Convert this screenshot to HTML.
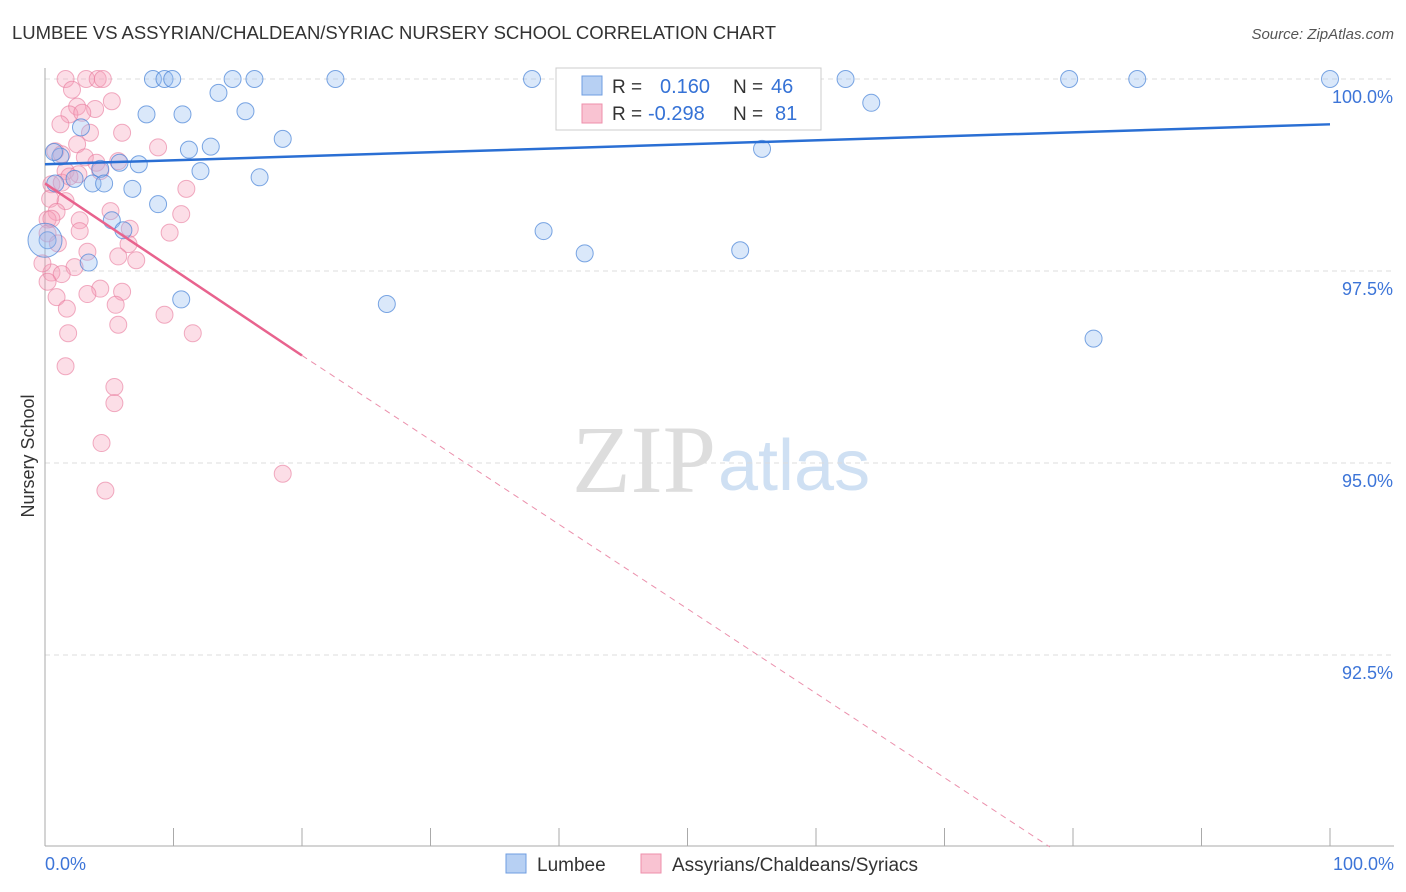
<!DOCTYPE html>
<html><head><meta charset="utf-8"><style>
body{margin:0;background:#fff;font-family:"Liberation Sans",sans-serif;}
svg{display:block}
</style></head><body>
<svg id="c" width="1406" height="892">
<text x="12" y="39" font-size="18.5" fill="#333" textLength="764">LUMBEE VS ASSYRIAN/CHALDEAN/SYRIAC NURSERY SCHOOL CORRELATION CHART</text>
<text x="1394" y="39" font-size="15" fill="#555" font-style="italic" text-anchor="end">Source: ZipAtlas.com</text>
<text x="34" y="456" font-size="18" fill="#333" text-anchor="middle" transform="rotate(-90 34 456)">Nursery School</text>
<text x="716" y="492" font-size="96" fill="#ddd" font-family="Liberation Serif,serif" text-anchor="end">ZIP</text>
<text x="718" y="490" font-size="72" fill="#cfe0f3">atlas</text>
<g id="grid"></g><g id="pts"></g><g id="lines"></g>
<g>
<rect x="556" y="68" width="265" height="62" fill="#fff" stroke="#ccc"/>
<rect x="582" y="76" width="20" height="19" fill="#b7d0f3" stroke="#6f9ee0"/>
<rect x="582" y="104" width="20" height="19" fill="#f9c3d2" stroke="#ee8fab"/>
<text x="612" y="93" font-size="19" fill="#333">R =</text>
<text x="660" y="93" font-size="20" fill="#3572d6">0.160</text>
<text x="733" y="93" font-size="19" fill="#333">N =</text>
<text x="771" y="93" font-size="20" fill="#3572d6">46</text>
<text x="612" y="120" font-size="19" fill="#333">R =</text>
<text x="648" y="120" font-size="20" fill="#3572d6">-0.298</text>
<text x="733" y="120" font-size="19" fill="#333">N =</text>
<text x="775" y="120" font-size="20" fill="#3572d6">81</text>
</g>
<g>
<rect x="506" y="854" width="20" height="19" fill="#b7d0f3" stroke="#6f9ee0"/>
<text x="537" y="871" font-size="19" fill="#333">Lumbee</text>
<rect x="641" y="854" width="20" height="19" fill="#f9c3d2" stroke="#ee8fab"/>
<text x="672" y="871" font-size="19" fill="#333">Assyrians/Chaldeans/Syriacs</text>
</g>
</svg>
<script>
const yTicks=[100,97.5,95,92.5];
const yTickLabels=["100.0%","97.5%","95.0%","92.5%"];
const xTickLabels=["0.0%","100.0%"];
const blueX=[8.4,9.3,9.9,14.6,16.3,22.6,37.9,48.5,62.3,79.7,85,100,13.5,7.9,10.7,15.6,64.3,2.8,18.5,11.2,12.9,55.8,1.2,5.8,7.3,4.3,12.1,16.7,2.3,3.7,4.6,6.8,8.8,5.2,6.1,38.8,42,54.1,0.2,3.4,10.6,26.6,81.6,0.8,0.7];
const blueY=[100,100,100,100,100,100,100,100,100,100,100,100,99.82,99.54,99.54,99.58,99.69,99.37,99.22,99.08,99.12,99.09,98.99,98.91,98.89,98.83,98.80,98.72,98.70,98.64,98.64,98.57,98.37,98.16,98.03,98.02,97.73,97.77,97.90,97.61,97.13,97.07,96.62,98.64,99.05];
const pinkX=[1.6,3.2,4.1,4.5,2.1,5.2,2.5,3.9,1.9,2.9,1.2,3.5,6,2.5,8.8,0.8,1.3,3.1,4,5.7,1.6,2.6,4.3,0.5,1.3,1.9,11,0.4,1.6,0.9,5.1,10.6,0.2,2.7,0.5,2.7,9.7,6.6,6.5,3.3,5.7,7.1,2.3,0.5,1.3,0.2,4.3,6,3.3,0.9,5.5,1.7,9.3,5.7,1.8,11.5,1.6,5.4,5.4,4.4,18.5,4.7,0.2,1,-0.2];
const pinkY=[100,100,100,100,99.86,99.71,99.64,99.61,99.54,99.56,99.41,99.30,99.30,99.15,99.11,99.06,99.02,98.98,98.91,98.93,98.80,98.76,98.80,98.63,98.65,98.73,98.57,98.44,98.41,98.27,98.28,98.24,98.17,98.16,98.18,98.02,98.00,98.05,97.85,97.75,97.69,97.64,97.55,97.48,97.46,97.36,97.27,97.23,97.20,97.16,97.06,97.01,96.93,96.80,96.69,96.69,96.26,95.99,95.78,95.26,94.86,94.64,97.99,97.86,97.60];
const blueLine=[[0,98.89],[100,99.41]];
const pinkLine=[[0,98.64],[20,96.40],[78.2,90]];
const X=v=>45+v*12.85, Y=v=>79+(100-v)*76.8;
const NS="http://www.w3.org/2000/svg";
function mk(t,a,p){const e=document.createElementNS(NS,t);for(const k in a)e.setAttribute(k,a[k]);p.appendChild(e);return e;}
const g=document.getElementById('grid');
yTicks.forEach((t,i)=>{
 const l=mk('line',{x1:45,x2:1394,y1:Y(t),y2:Y(t),stroke:'#ddd','stroke-dasharray':'5,4'},g);
 
 
 const tx=mk('text',{x:1393,y:Y(t)+24,'font-size':18,fill:'#3d75d8','text-anchor':'end'},g);tx.textContent=yTickLabels[i];
 
 
});
mk('line',{x1:45,x2:45,y1:68,y2:846,stroke:'#aaa'},g);
mk('line',{x1:45,x2:1394,y1:846,y2:846,stroke:'#aaa'},g);
for(let i=0;i<=10;i++){mk('line',{x1:X(i*10),x2:X(i*10),y1:828,y2:846,stroke:'#aaa'},g);}
[[0,'start',45],[1,'end',1394]].forEach(([i,a,x])=>{const t=mk('text',{x:x,y:870,'font-size':18,fill:'#3d75d8','text-anchor':a},g);t.textContent=xTickLabels[i];
 
 });
const p=document.getElementById('pts');
pinkX.forEach((x,i)=>{const c=mk('circle',{cx:X(x),cy:Y(pinkY[i]),r:8.5,fill:'rgba(245,160,185,0.35)',stroke:'rgba(232,120,155,0.6)'},p);
 
 });
blueX.forEach((x,i)=>{const c=mk('circle',{cx:X(x),cy:Y(blueY[i]),r:8.5,fill:'rgba(150,190,240,0.35)',stroke:'rgba(70,130,215,0.7)'},p);
 
 });
const big=mk('circle',{cx:X(0),cy:Y(97.9),r:17,fill:'rgba(150,190,240,0.35)',stroke:'rgba(70,130,215,0.7)'},p);


const L=document.getElementById('lines');
const bl=mk('line',{x1:X(blueLine[0][0]),y1:Y(blueLine[0][1]),x2:X(blueLine[1][0]),y2:Y(blueLine[1][1]),stroke:'#2a6fd4','stroke-width':2.5},L);


const pl=mk('line',{x1:X(pinkLine[0][0]),y1:Y(pinkLine[0][1]),x2:X(pinkLine[1][0]),y2:Y(pinkLine[1][1]),stroke:'#e8638e','stroke-width':2.5},L);


const pd=mk('line',{x1:X(pinkLine[1][0]),y1:Y(pinkLine[1][1]),x2:X(pinkLine[2][0]),y2:Y(pinkLine[2][1]),stroke:'#eb90ac','stroke-width':1,'stroke-dasharray':'6,5'},L);


</script>
</body></html>
